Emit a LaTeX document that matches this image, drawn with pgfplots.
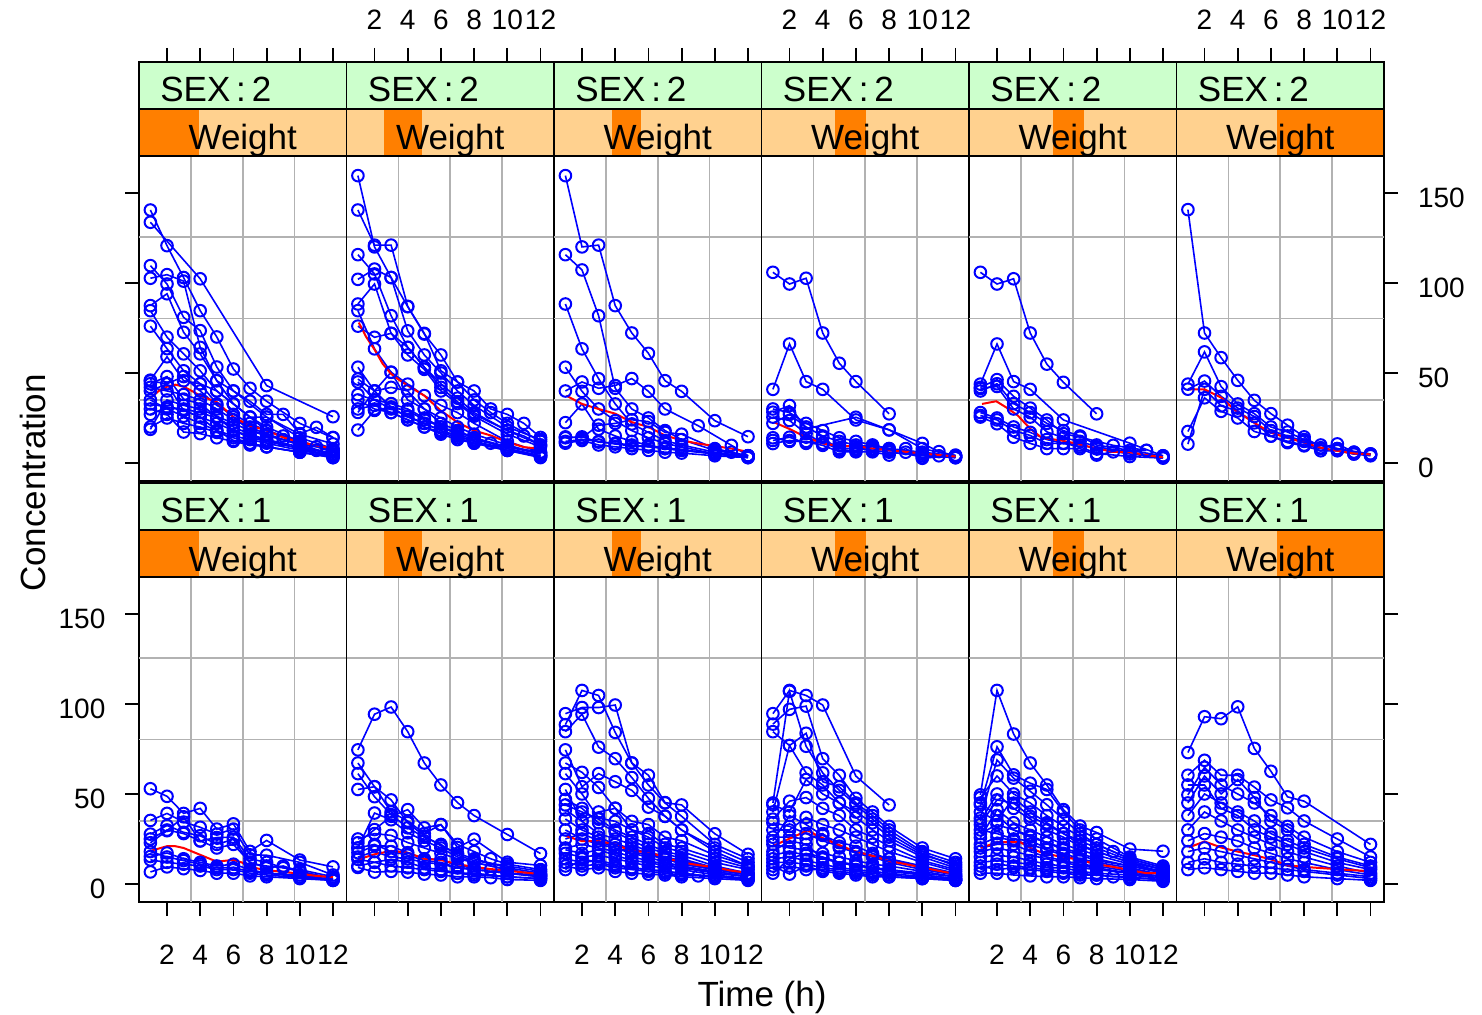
\documentclass[border=0pt]{standalone}
\usepackage{fontspec}
\setmainfont{Liberation Sans}
\usepackage{pgfplots}
\pgfplotsset{compat=1.18}

\definecolor{sexgreen}{HTML}{CCFFCC}
\definecolor{peach}{HTML}{FFD18F}
\definecolor{shingle}{HTML}{FF7F00}

\newcommand{\striptext}{\fontsize{17.5}{20}\selectfont}
\newcommand{\ticktext}{\fontsize{14}{16}\selectfont}

\pgfplotsset{
  panel/.style={
    scale only axis, width=103.75pt, height=162.5pt,
    anchor=south west,
    xmin=0.313, xmax=12.813, ymin=-10, ymax=170.5,
    axis line style={black, line width=0.95pt},
    xtick=\empty, ytick=\empty,
    extra x ticks={3.438,6.563,9.688}, extra y ticks={35.125,80.25,125.375},
    extra x tick labels={,,}, extra y tick labels={,,},
    extra tick style={grid=major, major tick length=0pt, major tick style={draw=none}},
    major grid style={draw=black!30, line width=0.8pt},
    tick align=outside, major tick length=7pt,
    major tick style={black, line width=0.9pt},
    tick label style={font=\ticktext},
    /pgf/number format/assume math mode=true,
  },
  bottomx/.style={xtick={2,4,6,8,10,12}, xtick pos=lower,
    xticklabel style={yshift=-11pt}},
  nobottomlabels/.style={xticklabels={,,,,,}},
  lefty/.style={ytick={0,50,100,150}, ytick pos=left,
    yticklabel style={xshift=-6.3pt, yshift=-2.5pt}},
  righty/.style={ytick={0,50,100,150}, ytick pos=right,
    yticklabel style={xshift=6.5pt, yshift=-2.5pt}},
  noylabels/.style={yticklabels={,,,}},
  subj/.style={draw=blue, line width=0.8pt, mark=o, mark size=2.9pt,
    mark options={draw=blue, line width=1pt, solid}},
  loess/.style={draw=red, line width=1pt, no marks},
}
\newcommand{\subj}[1]{\addplot[subj] coordinates {#1};}
\newcommand{\lo}[1]{\addplot[loess] coordinates {#1};}

\newcommand{\strips}[5]{%
  \fill[sexgreen] (#1,#2) rectangle ++(207.5,47);
  \fill[peach] (#1,#2+47) rectangle ++(207.5,47);
  \fill[shingle] ({#1+#3*207.5},#2+47) rectangle ({#1+#4*207.5},#2+94);
  \node[anchor=base west, inner sep=0, font=\striptext] at (#1+21,#2+40) {SEX\,:\,#5};
  \node[anchor=base, inner sep=0, font=\striptext] at (#1+103.75,#2+88) {Weight};
  \draw[line width=0.95pt] (#1,#2) rectangle ++(207.5,94);
  \draw[line width=0.95pt] (#1,#2+47) -- ++(207.5,0);
}
\newcommand{\topticks}[1]{%
  \foreach \t in {2,4,6,8,10,12} {\draw[line width=0.9pt] ({#1+(\t-0.313)*16.6},48) -- ++(0,14);}
}
\newcommand{\toplabels}[1]{%
  \foreach \t in {2,4,6,8,10,12} {\node[anchor=base, inner sep=0, font=\ticktext] at ({#1+(\t-0.313)*16.6},30) {\t};}
}

\begin{document}
\begin{tikzpicture}

% ================= TOP ROW (SEX 2) =================
\begin{axis}[panel, lefty, noylabels, at={(69.5pt,-240.5pt)}]
\subj{(1,140.5)(2,120.7)(3,103)(4,84.6)(5,70)(6,52.2)(7,41.5)(8,34.3)(10,22)(12,14)}
\subj{(1,133.7)(4,102.3)(8,43)(12,25.7)}
\subj{(1,109.6)(2,99.4)(3,80.9)(4,73.5)(5,53.3)(6,40)(7,34.3)(8,27)(9,27)(10,16.3)(11,19.8)(12,14.2)}
\subj{(1,102.6)(2,104.6)(3,101)(4,64.2)(5,45.7)(6,32.8)(7,25.5)(8,25.5)(10,16)(12,10.6)}
\subj{(1,87.4)(2,94)(3,72.6)(4,60.6)(5,45.7)(6,40)(8,25.5)(10,14)(12,8)}
\subj{(1,84.6)(2,69.9)(3,60.6)(4,51.2)(5,40)(6,32.8)(7,25.5)(8,20)(10,12)(12,7)}
\subj{(1,76)(2,63.5)(3,51.2)(4,44)(5,32.8)(6,25.5)(7,18.1)(8,16)(10,10)(12,5)}
\subj{(1,46)(2,59)(3,45.7)(4,44)(5,40)(6,32.8)(7,25.5)(8,18)(9,15)(10,12)(12,7)}
\subj{(1,44)(2,48)(3,35.5)(4,32.8)(5,25.5)(6,18.1)(7,14)(8,12)(10,8)(12,4)}
\subj{(1,40)(2,44)(3,29.2)(4,25.5)(5,18.1)(6,12.6)(7,10.9)(8,9)(10,6)(12,3)}
\subj{(1,32.8)(2,31)(3,29.2)(4,25.5)(5,22)(6,18)(7,15)(8,12.6)(10,8)(11,7)(12,4)}
\subj{(1,30)(2,27)(3,17.2)(4,16.3)(5,14)(6,12)(7,10)(8,9)(10,6)(12,3.6)}
\subj{(1,27)(2,31)(3,30)(4,28)(5,25)(6,20)(7,16)(8,13)(10,9)(12,5)}
\subj{(1,18.7)(2,35)(3,32)(4,30)(5,26)(6,22)(7,18)(8,15)(9,13)(10,11)(12,7)}
\subj{(1,45.5)(2,44)(3,48)(4,40)(5,32)(6,27)(7,22)(8,18)(10,12)(12,7)}
\subj{(1,42)(2,40)(3,38)(4,35)(5,30)(6,24)(7,20)(8,16)(10,10)(11,9)(12,6)}
\subj{(1,20)(2,25)(3,22)(4,20)(5,17)(6,14)(7,11)(8,9)(10,6)(12,3)}
\subj{(1,35)(2,30)(3,26)(4,22)(5,18)(6,15)(7,13)(8,11)(10,7)(12,4)}
\lo{(1.05,36.4)(1.5,40)(2,42.4)(2.5,43.5)(3,42.4)(3.5,40)(4,37.4)(5,33.8)(6,25.5)(7,20.7)(8,18.1)(9,14.2)(10,11.6)(11,9.8)(12,7.9)}
\end{axis}

\begin{axis}[panel, at={(173.25pt,-240.5pt)}]
\subj{(1,159.6)(2,120)(3,103)(4,86.8)(5,71.6)(6,60)(7,45)(8,40)(9,30)(10,27)(11,22)(12,14.2)}
\subj{(1,140.5)(2,121)(3,121)(4,87)(5,72)(6,51.2)(7,45)(8,35)(9,28)(10,22)(12,12)}
\subj{(1,115.7)(2,105)(3,81.8)(4,64.2)(5,53.2)(6,44)(7,36)(8,28)(10,18)(12,10)}
\subj{(1,102)(2,107.7)(3,103)(4,73.4)(5,60)(6,50)(7,40)(8,32)(10,20)(12,13)}
\subj{(1,88.3)(2,99.4)(3,72)(4,60)(5,52)(6,40)(7,33)(8,26)(10,16)(12,9)}
\subj{(1,84.6)(2,63.4)(3,50.4)(4,43.8)(5,37.4)(6,32)(7,28)(8,22)(10,12)(12,6)}
\subj{(1,76)(2,69.8)(3,72)(4,64.2)(5,53.2)(6,42)(7,34)(8,27)(10,18)(11,15)(12,10)}
\subj{(1,53.2)(2,40)(3,42)(4,40)(5,30)(6,25)(7,20)(8,16)(10,10)(12,5)}
\subj{(1,46.6)(2,40)(3,31)(4,29)(5,24)(6,20)(7,17)(8,14)(10,8)(12,4)}
\subj{(1,28.1)(2,40)(3,50.4)(4,35)(5,30)(6,22)(7,18)(8,14)(10,9)(12,5)}
\subj{(1,18.3)(2,29.2)(3,31)(4,25.5)(5,22)(6,18)(7,15)(8,12)(10,7)(12,4)}
\subj{(1,38)(2,35)(3,33)(4,30)(5,25)(6,20)(7,16)(8,13)(9,11)(10,9)(12,6)}
\subj{(1,30)(2,32)(3,28)(4,24)(5,20)(6,16)(7,13)(8,11)(10,7)(12,3.5)}
\subj{(1,45)(2,35)(3,30)(4,26)(5,22)(6,18)(7,15)(8,12)(10,8)(12,4)}
\subj{(1,35)(2,30)(3,28)(4,24)(5,20)(6,17)(7,14)(8,11)(10,7)(12,3)}
\lo{(1.05,78)(1.5,70)(2,63)(2.5,55)(3,49.5)(3.5,46)(4,43)(5,37.4)(6,29)(7,22.6)(8,18)(9,15.3)(10,11.6)(11,8.8)(12,7.9)}
\end{axis}

\begin{axis}[panel, at={(277pt,-240.5pt)}]
\subj{(1,159.6)(2,120)(3,121)(4,87.4)(5,72.2)(6,60.9)(7,45.7)(8,39.8)(10,23.5)(12,14.6)}
\subj{(1,115.7)(2,107.2)(3,81.8)(4,41.5)(5,30)(6,25)(7,18)(8,13)(10,7)(12,4)}
\subj{(1,88.3)(2,63.4)(3,46.8)(4,32.8)(5,21.7)(6,17)(7,12.4)(8,10)(10,6)(12,3.5)}
\subj{(1,53.2)(2,39.8)(3,30)(4,23.5)(5,18)(6,14)(7,10.8)(8,9)(10,5)(12,4)}
\subj{(1,22.4)(2,32.8)(3,18.8)(4,15)(5,12)(6,10)(7,8)(8,7)(10,5)(12,3)}
\subj{(1,40)(2,45)(3,41.5)(4,43)(5,46.9)(6,39.8)(7,30)(9,20.7)(11,9.8)(12,4)}
\subj{(1,14)(2,14.5)(3,11.6)(4,11)(5,10)(6,9)(7,8.5)(8,7.5)(10,5)(12,4)}
\subj{(1,12)(2,13)(3,12)(4,10.5)(5,9.5)(6,9)(7,8)(8,7)(10,5.5)(12,3.5)}
\subj{(1,11)(2,12.5)(3,10)(4,9)(5,8)(6,7)(7,6)(8,5.5)(10,4)(12,3)}
\subj{(1,14.5)(2,14)(3,21)(4,22)(5,24)(6,23)(7,17)(8,16)(10,8)(11,6)(12,4)}
\lo{(1.05,37.4)(2,32.8)(3,30)(4,27.4)(5,22.7)(6,20)(7,15.3)(8,12.6)(9,10.8)(10,9.4)(11,8)(12,6.2)}
\end{axis}

\begin{axis}[panel, at={(380.75pt,-240.5pt)}]
\subj{(1,105.9)(2,99.4)(3,102.6)(4,72.2)(5,55.4)(6,45.2)(8,27.3)}
\subj{(1,40.9)(2,66.1)(3,45.2)(4,40.9)(6,23.9)(8,18.4)(10,10.9)(11,6.3)(12,4)}
\subj{(1,28.2)(2,31.9)(3,18.9)(6,25.4)(8,18.4)(10,8)(12,4)}
\subj{(1,25.5)(2,23.6)(3,16.4)(4,10.9)(5,8.1)(6,8)(7,7)(8,6)(10,4)(12,3)}
\subj{(1,12.5)(2,14.3)(3,10.9)(4,14.3)(5,7.1)(6,7)(7,9.8)(8,8)(10,3)(12,3.6)}
\subj{(1,10.8)(2,12.5)(3,11.7)(4,9.8)(5,6.2)(6,6.2)(7,6.2)(8,4.4)(9,8)(10,2.6)(12,4.4)}
\subj{(1,22)(2,27)(3,20)(4,15)(5,12)(6,10)(7,9)(8,7)(10,5)(12,3)}
\subj{(1,30)(2,28)(3,22)(4,18)(5,14)(6,12)(7,10)(8,8)(10,6)(12,4)}
\subj{(1,14)(2,12)(3,12)(4,11)(5,10)(6,9)(7,8)(8,7)(9,6)(10,5)(11,4)(12,3)}
\lo{(1.1,22.5)(2,18.9)(3,14.3)(4,10.9)(5,9.4)(6,9.4)(7,8)(8,7.1)(9,6.2)(10,5.3)(11,4.4)(12,3.6)}
\end{axis}

\begin{axis}[panel, at={(484.5pt,-240.5pt)}]
\subj{(1,105.9)(2,99.4)(3,102.3)(4,72.2)(5,54.9)(6,44.8)(8,27.3)}
\subj{(1,43.8)(2,66.1)(3,45.2)(4,40.9)(6,23.9)(10,11)(12,4)}
\subj{(1,42)(2,46.3)(3,37)(4,30.5)(5,23.9)(6,16.3)(7,14.3)(9,9.8)(11,7)}
\subj{(1,26.4)(2,23.9)(3,18)(4,15.3)(5,10.9)(6,10.9)(7,9)(8,5.3)(10,3.6)(12,2.7)}
\subj{(1,25.5)(2,21.8)(3,14.3)(4,10.9)(5,8)(6,8)(7,8)(8,4.4)(9,6.2)(11,7)}
\subj{(1,41.4)(2,42.5)(3,30)(4,25.5)(5,17.3)(6,14)(7,12)(8,9)(10,6)(12,3)}
\subj{(1,40)(2,44)(3,33)(4,28)(5,22)(6,18)(7,15)(8,10)(10,7)(12,4)}
\subj{(1,28)(2,25)(3,20)(4,17)(5,13)(6,11)(7,10)(8,8)(10,5)(12,3)}
\lo{(1.1,32.8)(1.95,34.3)(2.55,30.9)(3.25,26.4)(4,19)(4.7,14)(5.8,12.6)(6.8,10.8)(8,8)(9,6.2)(10,6)(11,4.4)(12,3.1)}
\end{axis}

\begin{axis}[panel, righty, at={(588.25pt,-240.5pt)}]
\subj{(1,140.7)(2,72.2)(3,58.5)(4,45.9)(5,34.8)(6,27.4)(7,21)(8,14.5)(9,8.5)(10,10.6)(11,6)(12,4.5)}
\subj{(1,43.8)(2,61.7)(3,42.4)(4,32.8)(5,27.4)(6,20)(7,17.2)(8,13)(9,10)(10,8)(11,6)(12,5)}
\subj{(1,41)(2,45.5)(3,37)(4,30.5)(5,25.8)(6,18)(7,15)(8,12)(10,8)(12,5)}
\subj{(1,17.5)(2,36.2)(3,28.7)(4,25)(5,17.5)(6,15)(7,12)(8,10)(9,8)(10,7)(11,5)(12,4)}
\subj{(1,10.5)(2,40.9)(3,31.7)(4,28.9)(5,22.3)(6,14.9)(7,11.3)(8,9.5)(9,6.8)(10,6.8)(11,5)(12,5)}
\lo{(1.1,40.9)(2,40.9)(3,36.3)(3.9,28.9)(5,22.3)(6,16.8)(7,14)(8,11.3)(9,8.5)(10,6.7)(11,5.3)(12,4.8)}
\end{axis}

% ================= BOTTOM ROW (SEX 1) =================
\begin{axis}[panel, lefty, bottomx, at={(69.5pt,-451pt)}]
\subj{(1,52.9)(2,48.7)(3,39.2)(4,42)(5,30.5)(6,33.4)(7,18.1)(8,24.2)(10,13.3)(12,9.5)}
\subj{(1,35.3)(2,39.2)(3,34.4)(4,31.5)(5,27.7)(6,30.5)(7,16.2)(8,16)(10,12)(12,5)}
\subj{(1,27.7)(2,32.5)(3,28.7)(4,26.8)(5,22)(6,24.8)(7,11.5)(8,10)(10,8)(12,4)}
\subj{(1,22.9)(2,29.6)(3,37.3)(4,23.9)(5,25.8)(6,26)(7,14)(8,12)(9,9)(10,7)(12,3)}
\subj{(1,15.3)(2,17.2)(3,14)(4,12)(5,10)(6,11)(7,8)(8,6)(10,5)(12,2.5)}
\subj{(1,13.4)(2,12)(3,11)(4,10)(5,8)(6,8)(7,6)(8,5)(10,3.5)(12,2)}
\subj{(1,6.7)(2,9.5)(3,8.5)(4,7.5)(5,6)(6,6)(7,4.5)(8,4)(10,3)(12,2)}
\subj{(1,18)(2,15)(3,13)(4,11)(5,9)(6,9)(7,7)(8,6)(10,4)(12,2.5)}
\subj{(1,25)(2,30)(3,28)(4,24)(5,20)(6,22)(7,12)(8,9)(9,10)(10,7)(12,3)}
\lo{(1.05,18.5)(2,21)(2.5,21)(3,20)(4,16.2)(5,12.4)(6,13.4)(6.5,12)(7,9.5)(8,7.6)(9,6.8)(10,5.7)(11,4.5)(12,3.8)}
\end{axis}

\begin{axis}[panel, bottomx, nobottomlabels, at={(173.25pt,-451pt)}]
\subj{(1,74.5)(2,94.3)(3,98.3)(4,84.6)(5,67.2)(6,55)(7,45.2)(8,38)(10,27.5)(12,16.9)}
\subj{(1,67.2)(2,54)(3,46.7)(4,34)(5,26.7)(6,21.2)(7,17)(8,14)(10,9)(12,6)}
\subj{(1,61.3)(2,48.5)(3,38.5)(4,31.2)(5,26)(6,22)(7,16)(8,13)(10,10)(12,7)}
\subj{(1,52.5)(2,54)(3,40)(4,35)(5,28)(6,33)(7,22)(8,18)(9,14)(10,11)(12,8)}
\subj{(1,22.9)(2,30.2)(3,37.6)(4,41.3)(5,31.2)(6,33)(7,20.3)(8,24.9)(10,12.1)(12,10.3)}
\subj{(1,20)(2,39.4)(3,35.7)(4,28.4)(5,24)(6,20)(7,15)(8,12)(10,8)(12,5)}
\subj{(1,17.4)(2,21.2)(3,21)(4,17.4)(5,14)(6,13.7)(7,10)(8,9)(9,8)(10,6)(12,4)}
\subj{(1,13.7)(2,12.1)(3,13.7)(4,12.1)(5,9)(6,8)(7,6)(8,6)(10,4)(12,3)}
\subj{(1,9.2)(2,6.6)(3,7)(4,6.6)(5,5.5)(6,5)(7,4)(8,4)(9,3.5)(10,2.5)(12,2)}
\subj{(1,15)(2,18)(3,15)(4,14)(5,12)(6,11)(7,9)(8,8)(10,6)(12,5)}
\subj{(1,20)(2,22)(3,18)(4,16)(5,13)(6,12)(7,9)(8,8)(10,6)(12,4)}
\subj{(1,10)(2,12)(3,10)(4,9)(5,8)(6,7)(7,6)(8,5)(10,4)(12,3)}
\subj{(1,25)(2,28)(3,27)(4,23)(5,20)(6,17)(7,14)(8,12)(10,8)(12,5)}
\lo{(1.05,13.7)(2,16.5)(3,18.4)(4,17.4)(5,14)(6,13.3)(7,11)(8,9.5)(9,8.3)(10,7.4)(11,6.4)(12,5.5)}
\end{axis}

\begin{axis}[panel, bottomx, at={(277pt,-451pt)}]
\subj{(1,88.5)(2,107.5)(3,104.7)(4,84.2)(5,67.2)(6,60.4)(7,45.2)(8,43.9)(10,27.9)(12,16.5)}
\subj{(1,94.6)(2,98)(3,98)(4,99.4)(5,67.2)(6,55)(7,45)(8,37.6)(10,22)(12,14)}
\subj{(1,84.6)(2,94.3)(3,76)(4,69.6)(5,59.1)(6,47.6)(7,37.6)(8,30)(10,18)(12,10)}
\subj{(1,74.5)(2,54)(3,61.3)(4,56.8)(5,52)(6,42.7)(7,37.6)(8,30)(10,20)(12,12)}
\subj{(1,67.2)(2,62)(3,53.6)(4,42.1)(5,34.8)(6,33)(7,26)(8,24)(10,16)(12,10)}
\subj{(1,61.3)(2,50)(3,36.6)(4,34.8)(5,30)(6,26)(7,20)(8,18)(10,12)(12,8)}
\subj{(1,52.5)(2,34.8)(3,40)(4,42)(5,30)(6,28)(7,22)(8,20)(10,14)(12,9)}
\subj{(1,43.9)(2,40)(3,36)(4,30)(5,26)(6,22)(7,18)(8,16)(10,10)(12,6)}
\subj{(1,41.2)(2,34.8)(3,28)(4,25)(5,22)(6,18)(7,15)(8,13)(10,9)(12,5)}
\subj{(1,36.1)(2,30)(3,26)(4,22)(5,20)(6,17)(7,14)(8,12)(10,8)(12,5)}
\subj{(1,20)(2,22)(3,20)(4,18)(5,15)(6,13)(7,11)(8,9)(10,6)(12,4)}
\subj{(1,17)(2,15)(3,16)(4,14)(5,12)(6,10)(7,9)(8,8)(10,5)(12,3)}
\subj{(1,14)(2,12)(3,13)(4,11)(5,9)(6,8)(7,7)(8,6)(10,4)(12,2.5)}
\subj{(1,10)(2,8)(3,9)(4,7)(5,6)(6,5.5)(7,5)(8,4)(10,3)(12,2)}
\subj{(1,12)(2,10)(3,11)(4,9)(5,8)(6,7)(7,6)(8,5)(9,4.5)(10,4)(12,3)}
\subj{(1,30)(2,25)(3,22)(4,20)(5,17)(6,15)(7,12)(8,10)(10,7)(12,4)}
\subj{(1,25)(2,28)(3,24)(4,20)(5,18)(6,16)(7,14)(8,11)(10,8)(12,5)}
\subj{(1,8)(2,14)(3,12)(4,10)(5,9)(6,8)(7,7)(8,6)(10,4)(12,3)}
\subj{(1,47)(2,42)(3,34)(4,29)(5,24)(6,20)(7,17)(8,14)(10,9)(12,6)}
\subj{(1,19)(2,17)(3,19)(4,16)(5,13)(6,12)(7,10)(8,9)(10,7)(12,4)}
\lo{(1.05,26.6)(2,23.8)(3,23.8)(4,22)(5,18.3)(6,17.8)(7,14.7)(8,12)(9,10.5)(10,9.3)(11,7.4)(12,6.2)}
\end{axis}

\begin{axis}[panel, bottomx, nobottomlabels, at={(380.75pt,-451pt)}]
\subj{(1,94.6)(2,107.5)(3,104.7)(4,99.4)(6,59.9)(8,43.9)}
\subj{(1,88.8)(2,97)(3,98.8)(4,69.6)(5,60.4)(6,47.6)(7,40)(8,32)(10,20)(12,14)}
\subj{(1,84.6)(2,76.9)(3,83.7)(4,56.8)(5,54)(6,45)(7,38)(8,30)(10,18)(12,12)}
\subj{(1,45)(2,107)(3,76.5)(4,61.7)(5,52)(6,44)(7,36)(8,28)(10,17)(12,10)}
\subj{(1,40)(2,76.9)(3,61.7)(4,55)(5,45)(6,37)(7,30)(8,24)(10,15)(12,9)}
\subj{(1,44)(2,40)(3,58)(4,50)(5,45)(6,40)(7,34)(8,26)(10,16)(12,11)}
\subj{(1,36)(2,46)(3,48)(4,42)(5,38)(6,30)(7,26)(8,21)(10,13)(12,8)}
\subj{(1,30)(2,30)(3,37)(4,33)(5,30)(6,26)(7,22)(8,18)(10,12)(12,7)}
\subj{(1,26)(2,26)(3,25)(4,28)(5,20)(6,18)(7,16)(8,14)(10,10)(12,6)}
\subj{(1,22)(2,20)(3,19)(4,17)(5,15)(6,13)(7,11)(8,10)(10,7)(12,4)}
\subj{(1,18)(2,24)(3,22)(4,14)(5,12)(6,10)(7,9)(8,8)(10,5)(12,3)}
\subj{(1,14)(2,15)(3,13)(4,11)(5,9)(6,8)(7,7)(8,6)(10,4)(12,2.5)}
\subj{(1,10)(2,5.5)(3,10)(4,7)(5,6)(6,5)(7,4)(8,4)(10,3)(12,2)}
\subj{(1,12)(2,12)(3,11)(4,9)(5,8)(6,7)(7,6)(8,5)(10,3.5)(12,2)}
\subj{(1,34)(2,32)(3,28)(4,24)(5,21)(6,17)(7,15)(8,12)(10,8)(12,5)}
\subj{(1,6)(2,14)(3,17)(4,15)(5,12)(6,10)(7,9)(8,7)(10,5)(12,3)}
\subj{(1,24)(2,38)(3,33)(4,27)(5,23)(6,21)(7,17)(8,14)(10,9)(12,5)}
\subj{(1,16)(2,18)(3,16)(4,14)(5,12)(6,11)(7,9)(8,8)(10,6)(12,4)}
\subj{(1,8)(2,10)(3,8)(4,8)(5,7)(6,6)(7,5)(8,4)(10,3)(12,2)}
\lo{(1.1,21.5)(2,25.2)(3.1,29.8)(3.7,26.7)(4.9,22)(5.9,18.3)(7,15.6)(8,12.8)(9,11)(10,9.2)(11,7.3)(11.5,6.4)(12,6)}
\end{axis}

\begin{axis}[panel, bottomx, at={(484.5pt,-451pt)}]
\subj{(1,49.5)(2,107.5)(3,83.3)(4,67.2)(5,55)(6,41.3)(7,32.2)(8,28.6)(10,19.4)(12,18.2)}
\subj{(1,44)(2,76.2)(3,60.6)(4,56)(5,52.5)(6,40)(7,30)(8,25)(10,15)(12,10)}
\subj{(1,36.6)(2,68.9)(3,58.8)(4,51.5)(5,44)(6,36)(7,28)(8,22)(9,18)(10,14)(12,9)}
\subj{(1,33)(2,46.7)(3,44.9)(4,37.6)(5,33)(6,28)(7,24)(8,20)(10,13)(12,8)}
\subj{(1,25.7)(2,41.3)(3,34)(4,30)(5,26)(6,22)(7,19)(8,16)(10,11)(12,7)}
\subj{(1,40)(2,35)(3,48)(4,40)(5,34)(6,28)(7,22)(8,18)(10,12)(12,6)}
\subj{(1,30)(2,28)(3,25)(4,24)(5,20)(6,17)(7,14)(8,12)(10,9)(12,5)}
\subj{(1,20)(2,22)(3,22)(4,18)(5,15)(6,13)(7,11)(8,10)(10,7)(12,4)}
\subj{(1,15)(2,16)(3,15)(4,13)(5,11)(6,10)(7,9)(8,8)(10,6)(12,3)}
\subj{(1,10)(2,8)(3,9)(4,8)(5,7)(6,6)(7,5)(8,5)(9,4)(10,4)(12,2)}
\subj{(1,6)(2,6)(3,5)(4,4.5)(5,4)(6,4)(7,3.5)(8,3)(10,2.5)(12,1.5)}
\subj{(1,45)(2,38)(3,30)(4,27)(5,23)(6,19)(7,16)(8,13)(10,10)(12,7)}
\subj{(1,48)(2,60)(3,50)(4,45)(5,38)(6,32)(7,26)(8,22)(10,14)(12,9)}
\subj{(1,35)(2,50)(3,42)(4,36)(5,30)(6,26)(7,21)(8,18)(10,12)(12,8)}
\subj{(1,28)(2,33)(3,30)(4,26)(5,23)(6,20)(7,17)(8,14)(10,10)(12,6)}
\subj{(1,22)(2,26)(3,24)(4,22)(5,19)(6,16)(7,13)(8,11)(10,8)(12,5)}
\subj{(1,12)(2,13)(3,12)(4,11)(5,9)(6,9)(7,7)(8,6)(10,5)(12,3)}
\subj{(1,8)(2,11)(3,10)(4,9)(5,8)(6,7)(7,6)(8,5)(10,3.5)(12,2.5)}
\subj{(1,18)(2,20)(3,18)(4,16)(5,14)(6,12)(7,10)(8,9)(10,6)(12,4)}
\lo{(1.05,20.1)(2,23.2)(3.4,23.2)(4,20.1)(4.7,17.4)(5.8,15.2)(6.8,13.7)(8,11)(9,9.5)(10,7.7)(11,6)(12,6)}
\end{axis}

\begin{axis}[panel, righty, noylabels, bottomx, nobottomlabels, at={(588.25pt,-451pt)}]
\subj{(1,73)(2,92.9)(3,91.8)(4,98.4)(5,75.3)(6,62.6)(7,48.4)(8,46)(12,22)}
\subj{(1,60.4)(2,68.7)(3,60.4)(4,60.4)(5,53.8)(6,46.7)(7,42.3)(8,35)(10,25)(12,15)}
\subj{(1,49.5)(2,64.8)(3,55)(4,50)(5,45)(6,38)(7,32)(8,26)(10,18)(12,12)}
\subj{(1,45)(2,60)(3,50)(4,58)(5,48)(6,35)(7,30)(8,22)(10,15)(12,10)}
\subj{(1,38)(2,50)(3,45)(4,40)(5,35)(6,28)(7,24)(8,20)(10,14)(12,9)}
\subj{(1,30)(2,40)(3,35)(4,30)(5,26)(6,22)(7,18)(8,15)(10,10)(12,6)}
\subj{(1,24)(2,28)(3,26)(4,24)(5,20)(6,17)(7,14)(8,12)(10,8)(12,5)}
\subj{(1,18)(2,20)(3,18)(4,16)(5,14)(6,12)(7,10)(8,8)(10,6)(12,4)}
\subj{(1,12)(2,14)(3,12)(4,11)(5,10)(6,9)(7,8)(8,7)(10,5)(12,3)}
\subj{(1,8)(2,9)(3,8)(4,7)(5,6)(6,6)(7,5)(8,4)(10,3)(12,2)}
\subj{(1,55)(2,55)(3,42)(4,38)(5,30)(6,26)(7,22)(8,18)(10,12)(12,8)}
\lo{(1.05,20.3)(2,23.6)(3,20.3)(4,18)(5,16)(6,13.7)(7,10.4)(8,9.5)(10,8.2)(12,7.1)}
\end{axis}

% ================= STRIPS, TOP TICKS, LABELS =================
\begin{scope}[x=0.5pt,y=-0.5pt]
\strips{139}{62}{0}{0.289}{2}
\strips{346.5}{62}{0.181}{0.366}{2}
\strips{554}{62}{0.278}{0.418}{2}
\strips{761.5}{62}{0.354}{0.502}{2}
\strips{969}{62}{0.405}{0.554}{2}
\strips{1176.5}{62}{0.484}{1}{2}
\strips{139}{483}{0}{0.289}{1}
\strips{346.5}{483}{0.181}{0.366}{1}
\strips{554}{483}{0.278}{0.418}{1}
\strips{761.5}{483}{0.354}{0.502}{1}
\strips{969}{483}{0.405}{0.554}{1}
\strips{1176.5}{483}{0.484}{1}{1}
\topticks{139}\topticks{346.5}\topticks{554}\topticks{761.5}\topticks{969}\topticks{1176.5}
\toplabels{346.5}\toplabels{761.5}\toplabels{1176.5}
\node[rotate=90, anchor=base, inner sep=0, font=\striptext] at (45,483) {Concentration};
\node[anchor=base, inner sep=0, font=\striptext] at (762,1006) {Time (h)};
\pgfresetboundingbox
\useasboundingbox (0,0) rectangle (1482,1015);
\end{scope}
\end{tikzpicture}
\end{document}
